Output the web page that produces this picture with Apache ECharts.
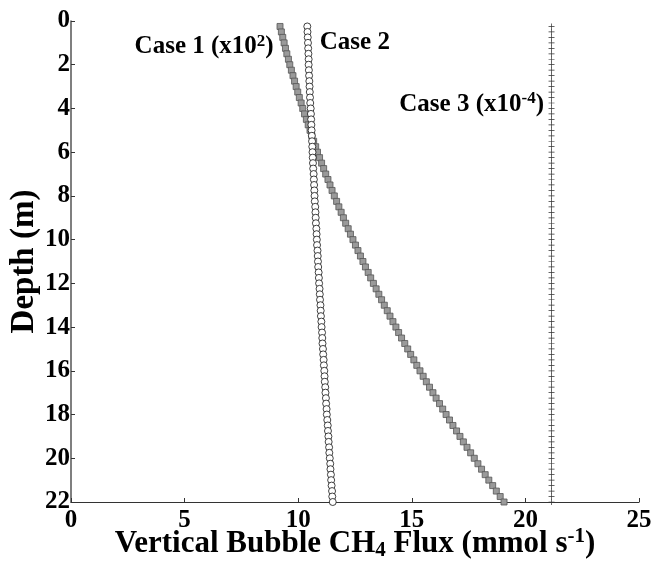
<!DOCTYPE html>
<html>
<head>
<meta charset="utf-8">
<title>Vertical bubble CH4 flux</title>
<script src="https://cdn.jsdelivr.net/npm/echarts@6/dist/echarts.min.js"></script>
<style>
  html, body { margin: 0; padding: 0; background: #fff; }
  #main { width: 653px; height: 561px; }
</style>
</head>
<body>
<div id="main"></div>
<script>
// depth of every sample (m)
var depth = [
  0.25, 0.5, 0.75, 1.0, 1.25, 1.5, 1.75, 2.0, 2.25, 2.5, 2.75, 3.0,
  3.25, 3.5, 3.75, 4.0, 4.25, 4.5, 4.75, 5.0, 5.25, 5.5, 5.75, 6.0,
  6.25, 6.5, 6.75, 7.0, 7.25, 7.5, 7.75, 8.0, 8.25, 8.5, 8.75, 9.0,
  9.25, 9.5, 9.75, 10.0, 10.25, 10.5, 10.75, 11.0, 11.25, 11.5, 11.75, 12.0,
  12.25, 12.5, 12.75, 13.0, 13.25, 13.5, 13.75, 14.0, 14.25, 14.5, 14.75, 15.0,
  15.25, 15.5, 15.75, 16.0, 16.25, 16.5, 16.75, 17.0, 17.25, 17.5, 17.75, 18.0,
  18.25, 18.5, 18.75, 19.0, 19.25, 19.5, 19.75, 20.0, 20.25, 20.5, 20.75, 21.0,
  21.25, 21.5, 21.75, 22.0
];

// Case 1 flux (x10^2), gray squares
var case1 = [
  9.20, 9.26, 9.32, 9.38, 9.44, 9.50, 9.57, 9.63, 9.70, 9.77, 9.84, 9.91,
  9.98, 10.05, 10.13, 10.20, 10.28, 10.36, 10.44, 10.52, 10.60, 10.68, 10.77, 10.85,
  10.94, 11.03, 11.12, 11.21, 11.31, 11.40, 11.49, 11.59, 11.69, 11.79, 11.89, 11.99,
  12.09, 12.20, 12.30, 12.41, 12.52, 12.63, 12.74, 12.85, 12.96, 13.08, 13.19, 13.31,
  13.43, 13.55, 13.67, 13.79, 13.92, 14.04, 14.17, 14.30, 14.42, 14.55, 14.69, 14.82,
  14.95, 15.09, 15.22, 15.36, 15.50, 15.64, 15.78, 15.93, 16.07, 16.22, 16.36, 16.51,
  16.66, 16.81, 16.97, 17.12, 17.27, 17.43, 17.59, 17.75, 17.91, 18.07, 18.23, 18.39,
  18.56, 18.72, 18.89, 19.06
];

// Case 2 flux, open circles
var case2 = [
  10.40, 10.41, 10.42, 10.43, 10.44, 10.45, 10.46, 10.46, 10.47, 10.48, 10.49, 10.50,
  10.51, 10.52, 10.53, 10.55, 10.56, 10.57, 10.58, 10.59, 10.60, 10.61, 10.62, 10.63,
  10.64, 10.65, 10.66, 10.68, 10.69, 10.70, 10.71, 10.72, 10.73, 10.75, 10.76, 10.77,
  10.78, 10.80, 10.81, 10.82, 10.83, 10.85, 10.86, 10.87, 10.88, 10.90, 10.91, 10.92,
  10.94, 10.95, 10.96, 10.98, 10.99, 11.00, 11.02, 11.03, 11.05, 11.06, 11.07, 11.09,
  11.10, 11.12, 11.13, 11.15, 11.16, 11.17, 11.19, 11.20, 11.22, 11.23, 11.25, 11.26,
  11.28, 11.30, 11.31, 11.33, 11.34, 11.36, 11.37, 11.39, 11.41, 11.42, 11.44, 11.45,
  11.47, 11.49, 11.50, 11.52
];

// Case 3 flux (x10^-4), plus marks
var case3 = [
  21.15, 21.15, 21.15, 21.15, 21.15, 21.15, 21.15, 21.15, 21.15, 21.15, 21.15, 21.15,
  21.15, 21.15, 21.15, 21.15, 21.15, 21.15, 21.15, 21.15, 21.15, 21.15, 21.15, 21.15,
  21.15, 21.15, 21.15, 21.15, 21.15, 21.15, 21.15, 21.15, 21.15, 21.15, 21.15, 21.15,
  21.15, 21.15, 21.15, 21.15, 21.15, 21.15, 21.15, 21.15, 21.15, 21.15, 21.15, 21.15,
  21.15, 21.15, 21.15, 21.15, 21.15, 21.15, 21.15, 21.15, 21.15, 21.15, 21.15, 21.15,
  21.15, 21.15, 21.15, 21.15, 21.15, 21.15, 21.15, 21.15, 21.15, 21.15, 21.15, 21.15,
  21.15, 21.15, 21.15, 21.15, 21.15, 21.15, 21.15, 21.15, 21.15, 21.15, 21.15, 21.15,
  21.15, 21.15, 21.15, 21.15
];

var caseLabels = [
  'Case 1 (x10{sup|2})',
  'Case 2',
  'Case 3 (x10{sup|-4})'
];

var FONT = '"Liberation Serif", "DejaVu Serif", serif';

function pairs(xs) {
  return xs.map(function (v, i) { return [v, depth[i]]; });
}

var supRich = {
  sup: { fontFamily: FONT, fontWeight: 'bold', fontSize: 17, verticalAlign: 'top', padding: [0, 0, 10, 0] }
};

var myChart = echarts.init(document.getElementById('main'), null, { renderer: 'canvas' });

var option = {
  animation: false,
  backgroundColor: '#fff',
  grid: { left: 71, right: 14, top: 21, bottom: 59, outerBoundsMode: 'none', containLabel: false },
  xAxis: {
    type: 'value',
    position: 'bottom',
    min: 0, max: 25, interval: 5,
    name: 'Vertical Bubble CH{sub|4} Flux (mmol s{sup|-1})',
    nameLocation: 'middle',
    nameMoveOverlap: false,
    nameGap: 24,
    nameTextStyle: {
      fontFamily: FONT, fontWeight: 'bold', fontSize: 31, color: '#000',
      rich: {
        sup: { fontFamily: FONT, fontWeight: 'bold', fontSize: 21, verticalAlign: 'top', padding: [0, 0, 12, 0] },
        sub: { fontFamily: FONT, fontWeight: 'bold', fontSize: 21, padding: [14, 0, 0, 0] }
      }
    },
    axisLine: { onZero: false, lineStyle: { color: '#333', width: 1.2 } },
    axisTick: { inside: true, length: 4, lineStyle: { color: '#333' } },
    axisLabel: { fontFamily: FONT, fontWeight: 'bold', fontSize: 25, color: '#000', margin: 6 },
    splitLine: { show: false }
  },
  yAxis: {
    type: 'value',
    inverse: true,
    min: 0, max: 22, interval: 2,
    name: 'Depth (m)',
    nameLocation: 'middle',
    nameMoveOverlap: false,
    nameGap: 30,
    nameTextStyle: { fontFamily: FONT, fontWeight: 'bold', fontSize: 33, color: '#000' },
    axisLine: { onZero: false, lineStyle: { color: '#555', width: 1.5 } },
    axisTick: { inside: true, length: 4, lineStyle: { color: '#333' } },
    axisLabel: { fontFamily: FONT, fontWeight: 'bold', fontSize: 25, color: '#000', margin: 1 },
    splitLine: { show: false }
  },
  series: [
    {
      name: 'Case 1',
      type: 'scatter',
      data: pairs(case1),
      symbol: 'rect',
      symbolSize: 6,
      itemStyle: { color: '#9a9a9a', borderColor: '#555', borderWidth: 0.8, opacity: 1 },
      z: 2
    },
    {
      name: 'Case 2',
      type: 'scatter',
      data: pairs(case2),
      symbol: 'circle',
      symbolSize: 7,
      itemStyle: { color: '#fff', borderColor: '#111', borderWidth: 0.8, opacity: 1 },
      z: 3
    },
    {
      name: 'Case 3',
      type: 'scatter',
      data: pairs(case3),
      symbol: 'path://M0,4.4 H10 V5.6 H0 Z M4.4,0 H5.6 V10 H4.4 Z',
      symbolSize: 6,
      itemStyle: { color: '#333', opacity: 1 },
      z: 2
    }
  ]
};

myChart.setOption(option);

// case labels, anchored in data coordinates (left edge, vertical middle)
var anchors = [[2.8, 1.15], [10.95, 1.0], [14.45, 3.8]];
var graphics = caseLabels.map(function (txt, i) {
  var p = myChart.convertToPixel({ gridIndex: 0 }, anchors[i]);
  return {
    type: 'text',
    x: p[0],
    y: p[1],
    z: 10,
    style: {
      text: txt,
      fontFamily: FONT,
      fontWeight: 'bold',
      fontSize: 25,
      fill: '#000',
      verticalAlign: 'middle',
      align: 'left',
      rich: supRich
    }
  };
});
myChart.setOption({ graphic: graphics });
</script>
</body>
</html>
